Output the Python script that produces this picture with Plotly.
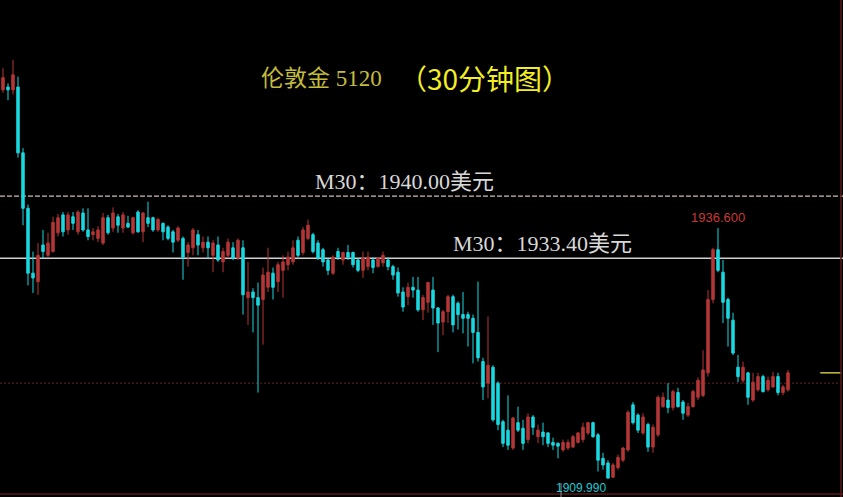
import plotly.graph_objects as go

# ---- data (London gold, 30-minute candles) ----
open_ = [1951.3, 1951.6, 1951.3, 1951.6, 1944.6, 1938.7, 1931.8, 1930.9, 1934.8, 1933.7,
         1934.1, 1936.1, 1938.0, 1936.4, 1937.8, 1936.2, 1938.2, 1936.4, 1935.9, 1935.5,
         1935.0, 1937.7, 1936.6, 1937.8, 1936.6, 1937.1, 1936.1, 1938.3, 1936.2, 1937.7,
         1937.7, 1936.4, 1937.1, 1936.7, 1936.2, 1935.3, 1935.5, 1934.0, 1934.5, 1935.9,
         1934.5, 1935.1, 1933.7, 1934.8, 1933.0, 1933.7, 1934.5, 1933.4, 1934.5, 1929.2,
         1929.8, 1929.2, 1929.0, 1930.3, 1931.8, 1930.9, 1932.1, 1932.7, 1933.0, 1935.3,
         1934.0, 1935.5, 1935.9, 1935.0, 1934.3, 1933.2, 1931.8, 1934.1, 1933.2, 1934.0,
         1934.0, 1933.2, 1932.1, 1932.5, 1933.2, 1932.5, 1932.9, 1933.2, 1932.5, 1931.9,
         1929.8, 1929.3, 1930.3, 1930.0, 1927.9, 1928.7, 1930.0, 1928.1, 1926.6, 1927.7,
         1929.3, 1928.6, 1927.4, 1927.4, 1927.0, 1925.5, 1922.4, 1920.1, 1921.8, 1920.1,
         1916.0, 1915.1, 1913.2, 1915.9, 1915.3, 1914.1, 1916.5, 1914.4, 1914.9, 1914.8,
         1913.8, 1913.7, 1913.0, 1913.2, 1913.3, 1913.8, 1914.1, 1914.8, 1915.9, 1914.6,
         1912.1, 1911.6, 1910.1, 1911.1, 1911.9, 1913.0, 1917.8, 1916.7, 1914.8, 1915.7,
         1913.3, 1914.6, 1917.6, 1918.3, 1917.5, 1919.1, 1918.1, 1916.7, 1917.6, 1918.6,
         1918.8, 1921.2, 1929.0, 1934.3, 1931.9, 1929.0, 1926.8, 1921.8, 1920.4, 1921.2,
         1918.3, 1919.4, 1920.8, 1919.4, 1919.7, 1920.8, 1919.1, 1919.4]
high = [1953.6, 1952.0, 1954.5, 1952.7, 1945.1, 1939.1, 1934.1, 1935.0, 1936.4, 1936.1,
        1937.8, 1938.1, 1938.3, 1938.3, 1938.3, 1938.5, 1938.7, 1938.7, 1936.6, 1936.8,
        1938.2, 1938.0, 1938.8, 1938.1, 1938.3, 1937.9, 1937.8, 1938.5, 1938.3, 1939.4,
        1937.8, 1937.7, 1937.2, 1936.9, 1936.4, 1936.8, 1935.7, 1935.1, 1936.6, 1936.4,
        1935.7, 1935.7, 1935.3, 1935.7, 1934.5, 1935.5, 1935.1, 1935.5, 1935.3, 1933.0,
        1930.2, 1930.8, 1932.4, 1934.5, 1932.4, 1933.0, 1933.7, 1934.1, 1935.3, 1935.7,
        1936.7, 1937.5, 1936.1, 1935.3, 1934.5, 1933.4, 1933.7, 1934.5, 1934.1, 1934.8,
        1934.1, 1933.4, 1934.1, 1934.1, 1933.5, 1933.5, 1934.1, 1933.5, 1932.7, 1932.4,
        1930.3, 1930.8, 1931.4, 1931.4, 1929.5, 1930.9, 1931.4, 1928.2, 1927.9, 1929.5,
        1929.5, 1928.8, 1929.8, 1927.7, 1927.4, 1930.9, 1922.8, 1927.2, 1922.0, 1920.3,
        1916.2, 1918.8, 1916.5, 1917.6, 1916.2, 1916.9, 1916.7, 1915.7, 1915.9, 1914.9,
        1914.3, 1913.8, 1914.1, 1914.1, 1914.6, 1914.9, 1915.9, 1916.0, 1916.0, 1914.8,
        1912.7, 1911.9, 1911.6, 1912.5, 1913.3, 1917.2, 1918.1, 1916.9, 1916.9, 1915.9,
        1915.7, 1918.8, 1919.1, 1920.1, 1919.4, 1919.6, 1918.3, 1918.0, 1919.4, 1920.7,
        1923.6, 1930.0, 1934.5, 1936.6, 1933.2, 1929.2, 1927.6, 1923.1, 1922.4, 1921.3,
        1921.2, 1921.2, 1921.0, 1920.8, 1921.3, 1921.2, 1919.9, 1921.5]
low = [1951.0, 1950.2, 1950.8, 1944.1, 1936.9, 1930.5, 1929.7, 1929.5, 1933.4, 1933.5,
       1934.0, 1935.7, 1935.7, 1935.9, 1936.4, 1935.9, 1936.2, 1935.3, 1935.3, 1935.1,
       1934.8, 1935.9, 1936.2, 1936.1, 1936.1, 1936.6, 1935.9, 1936.1, 1935.1, 1936.7,
       1936.2, 1936.2, 1935.3, 1935.3, 1934.0, 1935.1, 1931.1, 1932.5, 1933.7, 1933.7,
       1934.0, 1933.4, 1931.9, 1933.0, 1931.9, 1933.4, 1933.2, 1933.2, 1927.4, 1926.3,
       1925.5, 1919.1, 1924.2, 1929.8, 1929.0, 1929.8, 1929.2, 1932.1, 1932.7, 1933.5,
       1933.7, 1935.3, 1933.9, 1933.2, 1932.5, 1931.6, 1931.6, 1933.2, 1932.7, 1933.2,
       1932.4, 1931.9, 1931.3, 1932.1, 1931.8, 1932.4, 1932.5, 1932.1, 1931.1, 1929.3,
       1927.7, 1928.4, 1929.2, 1927.7, 1926.8, 1927.6, 1926.3, 1923.4, 1925.2, 1926.5,
       1925.5, 1925.8, 1925.4, 1924.0, 1922.2, 1922.4, 1918.3, 1918.5, 1916.0, 1915.1,
       1913.3, 1913.0, 1913.0, 1914.9, 1913.0, 1913.7, 1914.6, 1913.7, 1913.5, 1913.3,
       1913.0, 1912.1, 1912.8, 1913.0, 1913.2, 1913.7, 1913.8, 1914.6, 1914.3, 1910.7,
       1910.9, 1909.99, 1910.0, 1910.9, 1911.7, 1912.8, 1915.7, 1914.8, 1914.6, 1912.8,
       1912.7, 1914.4, 1917.5, 1916.9, 1917.2, 1917.5, 1916.2, 1916.5, 1917.5, 1918.3,
       1918.6, 1920.8, 1928.6, 1931.9, 1926.5, 1924.0, 1923.1, 1920.2, 1920.1, 1917.8,
       1918.1, 1919.2, 1919.1, 1919.2, 1919.6, 1918.8, 1918.8, 1919.2]
close = [1952.6, 1951.3, 1952.9, 1944.6, 1938.7, 1931.8, 1931.3, 1933.7, 1934.1, 1935.0,
         1937.2, 1937.7, 1936.2, 1938.0, 1937.1, 1938.3, 1936.4, 1935.7, 1936.2, 1936.4,
         1937.7, 1936.1, 1938.2, 1936.9, 1938.0, 1936.7, 1937.7, 1936.2, 1938.2, 1937.1,
         1936.4, 1937.5, 1936.2, 1935.5, 1935.1, 1936.6, 1933.5, 1934.8, 1936.4, 1934.8,
         1935.1, 1934.5, 1935.0, 1933.2, 1934.1, 1935.1, 1933.4, 1935.3, 1929.5, 1929.8,
         1929.2, 1928.4, 1931.6, 1931.9, 1930.3, 1932.7, 1933.0, 1933.5, 1934.5, 1933.7,
         1936.4, 1936.9, 1934.1, 1933.4, 1933.0, 1932.1, 1933.5, 1933.5, 1934.0, 1933.5,
         1932.7, 1932.1, 1933.4, 1933.5, 1932.4, 1933.4, 1933.7, 1932.5, 1931.6, 1929.7,
         1928.2, 1930.3, 1930.0, 1927.9, 1929.2, 1930.8, 1928.1, 1926.5, 1927.7, 1929.3,
         1926.3, 1927.4, 1927.0, 1927.0, 1925.5, 1922.8, 1919.7, 1922.0, 1916.2, 1915.7,
         1913.7, 1913.5, 1916.4, 1915.1, 1913.7, 1916.5, 1915.4, 1915.1, 1914.4, 1913.7,
         1913.5, 1913.4, 1913.8, 1913.8, 1914.4, 1914.8, 1915.4, 1915.9, 1914.4, 1911.9,
         1911.4, 1910.0, 1911.4, 1912.2, 1913.2, 1917.0, 1915.9, 1915.1, 1916.5, 1913.3,
         1915.4, 1918.6, 1918.6, 1917.5, 1919.2, 1917.6, 1916.9, 1917.6, 1919.2, 1920.4,
         1921.5, 1929.0, 1934.3, 1932.1, 1928.7, 1927.0, 1923.3, 1920.8, 1921.8, 1918.6,
         1920.2, 1920.8, 1919.2, 1920.4, 1920.8, 1919.1, 1919.7, 1921.2]

ma_upper = 1940.00      # M30 resistance
ma_lower = 1933.40      # M30 support
ref_price = 1920.1      # dashed reference line
title_left = "伦敦金 5120"
title_right = "（30分钟图）"
label_upper = "M30：1940.00美元"
label_lower = "M30：1933.40美元"

idx = list(range(len(close)))
i_min = min(idx, key=lambda i: low[i])
i_max = max(idx[i_min:], key=lambda i: high[i])   # highest point of the rebound

RED = "#b53636"
CYAN = "#1ad8e0"

fig = go.Figure()
fig.add_trace(go.Candlestick(
    x=idx, open=open_, high=high, low=low, close=close,
    increasing=dict(line=dict(color=RED, width=1), fillcolor=RED),
    decreasing=dict(line=dict(color=CYAN, width=1), fillcolor=CYAN),
    whiskerwidth=0, hoverinfo="skip", showlegend=False,
))

shapes = [
    dict(type="line", xref="paper", yref="y", x0=0, x1=1, y0=ma_upper, y1=ma_upper,
         line=dict(color="#cdbdb2", width=1.2, dash="5px,2px"), layer="below"),
    dict(type="line", xref="paper", yref="y", x0=0, x1=1, y0=ma_lower, y1=ma_lower,
         line=dict(color="#d0d0d0", width=1.5), layer="below"),
    dict(type="line", xref="paper", yref="y", x0=0, x1=1, y0=ref_price, y1=ref_price,
         line=dict(color="#6a2020", width=1, dash="2px,2px"), layer="below"),
    dict(type="line", xref="paper", yref="y", x0=0.973, x1=0.998, y0=close[-1], y1=close[-1],
         line=dict(color="#c8c040", width=1.5)),
    dict(type="line", xref="paper", yref="paper", x0=0.9976, x1=0.9976, y0=0, y1=1,
         line=dict(color="#5a1a1a", width=1.5)),
    dict(type="line", xref="paper", yref="paper", x0=0, x1=1, y0=0.006, y1=0.006,
         line=dict(color="#5a1a1a", width=1.5)),
    dict(type="line", xref="paper", yref="paper", x0=0.6655, x1=0.6655, y0=0, y1=0.028,
         line=dict(color="#909090", width=1)),
]

serif = "Liberation Serif, Noto Sans CJK SC"
annotations = [
    dict(text=title_left, xref="paper", yref="paper", x=0.381, y=0.843,
         xanchor="center", yanchor="middle",
         showarrow=False, font=dict(family=serif, size=23, color="#c4bc3c")),
    dict(text=title_right, xref="paper", yref="paper", x=0.575, y=0.843,
         xanchor="center", yanchor="middle",
         showarrow=False, font=dict(family="Noto Sans CJK SC", size=28, color="#f2ee22")),
    dict(text=label_upper, xref="paper", yref="y", x=0.480, y=ma_upper,
         xanchor="center", yanchor="bottom",
         yshift=0, showarrow=False, font=dict(family=serif, size=22, color="#d8d8d8")),
    dict(text=label_lower, xref="paper", yref="y", x=0.644, y=ma_lower,
         xanchor="center", yanchor="bottom",
         yshift=0, showarrow=False, font=dict(family=serif, size=22, color="#d8d8d8")),
    dict(text=f"{high[i_max]:.3f}", xref="x", yref="y", x=i_max, y=high[i_max],
         xanchor="center", yanchor="bottom", yshift=1, showarrow=False,
         font=dict(family="Liberation Sans", size=13, color="#c83838")),
    dict(text=f"{low[i_min]:.3f}", xref="x", yref="y", x=i_min, y=low[i_min],
         xanchor="right", yanchor="top", yshift=-1, showarrow=False,
         font=dict(family="Liberation Sans", size=12, color="#20c8d0")),
]

fig.update_layout(
    width=843, height=497,
    margin=dict(l=0, r=0, t=0, b=0),
    paper_bgcolor="#000000", plot_bgcolor="#000000",
    shapes=shapes, annotations=annotations,
    xaxis=dict(range=[-0.6, 168.0], visible=False, rangeslider=dict(visible=False),
               showgrid=False, zeroline=False),
    yaxis=dict(range=[1907.99, 1960.86], visible=False, showgrid=False, zeroline=False),
    hovermode=False,
)

fig.write_html(
    "out.html",
    config={"displayModeBar": False, "staticPlot": True},
    post_script="document.body.style.margin='0';document.body.style.background='#000';"
                "document.body.style.overflow='hidden';",
)
